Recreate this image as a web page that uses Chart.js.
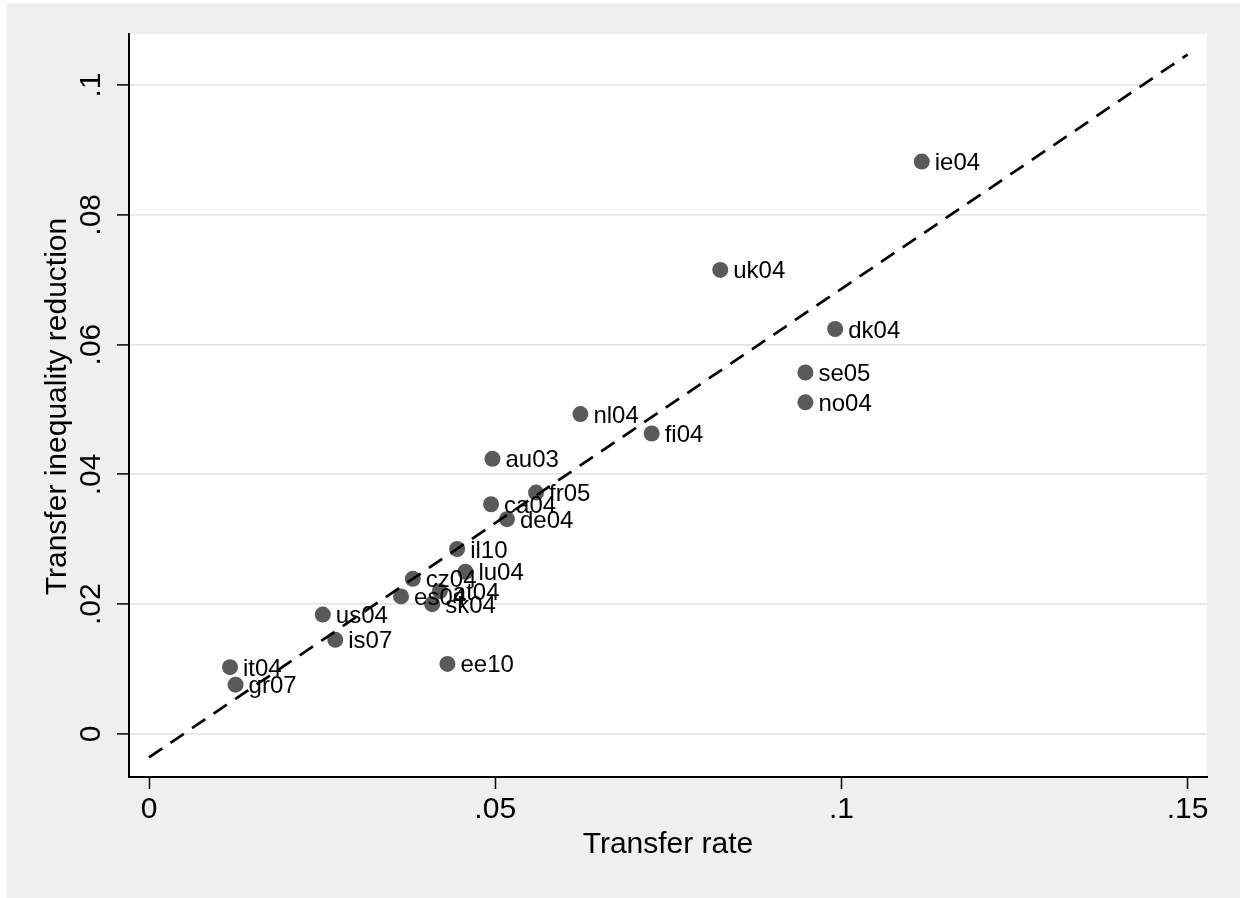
<!DOCTYPE html>
<html>
<head>
<meta charset="utf-8">
<script src="https://cdn.jsdelivr.net/npm/chart.js@4.4.1/dist/chart.umd.min.js"></script>
<style>
  html, body { margin: 0; padding: 0; background: #ffffff; }
  #wrap { position: absolute; left: 0; top: 0; width: 1241px; height: 898px; }
</style>
</head>
<body>
<div id="wrap"><canvas id="c" width="1241" height="898"></canvas></div>
<script>
const countries = ['ie04','uk04','dk04','se05','no04','nl04','fi04','au03','fr05','ca04','de04','il10','lu04','cz04','es04','at04','sk04','us04','is07','ee10','it04','gr07'];
const transferRate = [0.1116,0.0825,0.0991,0.0948,0.0948,0.0623,0.0726,0.0496,0.0559,0.0494,0.0517,0.0445,0.0457,0.0381,0.0364,0.0420,0.0409,0.0251,0.0269,0.0431,0.0117,0.0125];
const ineqReduction = [0.0882,0.0715,0.0624,0.0557,0.0511,0.0493,0.0463,0.0424,0.0372,0.0354,0.0331,0.0285,0.0250,0.0239,0.0212,0.0220,0.0200,0.0184,0.0145,0.0108,0.0103,0.0076];
const fitLineX = [0, 0.15];
const fitLineY = [-0.0036, 0.1047];
const xTickValues = [0, 0.05, 0.1, 0.15];
const xTickLabels = ['0', '.05', '.1', '.15'];
const yTickValues = [0, 0.02, 0.04, 0.06, 0.08, 0.1];
const yTickLabels = ['0', '.02', '.04', '.06', '.08', '.1'];
const xTitle = 'Transfer rate';
const yTitle = 'Transfer inequality reduction';

const FONT = '"Liberation Sans", Arial, sans-serif';

const bgPlugin = {
  id: 'bg',
  beforeDraw(chart) {
    const ctx = chart.ctx, a = chart.chartArea;
    ctx.save();
    ctx.fillStyle = '#ffffff';
    ctx.fillRect(0, 0, chart.width, chart.height);
    ctx.fillStyle = '#efefef';
    ctx.fillRect(7, 3, 1233, 895);
    ctx.fillStyle = '#ffffff';
    ctx.fillRect(a.left, a.top, a.right - a.left, a.bottom - a.top);
    ctx.restore();
  }
};

const textPlugin = {
  id: 'texts',
  afterDraw(chart) {
    const ctx = chart.ctx, a = chart.chartArea;
    const xs = chart.scales.x, ys = chart.scales.y;
    ctx.save();
    ctx.fillStyle = '#000000';
    ctx.font = '30px ' + FONT;
    ctx.textAlign = 'center';
    ctx.textBaseline = 'alphabetic';
    xTickValues.forEach((v, i) => {
      ctx.fillText(xTickLabels[i], xs.getPixelForValue(v), 818);
    });
    ctx.fillText(xTitle, (a.left + a.right) / 2, 853);
    yTickValues.forEach((v, i) => {
      ctx.save();
      ctx.translate(100, ys.getPixelForValue(v));
      ctx.rotate(-Math.PI / 2);
      ctx.textAlign = 'center';
      ctx.fillText(yTickLabels[i], 0, 0);
      ctx.restore();
    });
    ctx.save();
    ctx.translate(66, (a.top + a.bottom) / 2 + 1);
    ctx.rotate(-Math.PI / 2);
    ctx.textAlign = 'center';
    ctx.fillText(yTitle, 0, 0);
    ctx.restore();
    ctx.restore();
  },
  afterDatasetsDraw(chart) {
    const ctx = chart.ctx;
    const xs = chart.scales.x, ys = chart.scales.y;
    ctx.save();
    ctx.fillStyle = '#000000';
    ctx.font = '24px ' + FONT;
    ctx.textAlign = 'left';
    ctx.textBaseline = 'alphabetic';
    countries.forEach((c, i) => {
      const px = xs.getPixelForValue(transferRate[i]);
      const py = ys.getPixelForValue(ineqReduction[i]);
      ctx.fillText(c, px + 13, py + 8.5);
    });
    ctx.restore();
  }
};

new Chart(document.getElementById('c'), {
  data: {
    datasets: [
      {
        type: 'line',
        data: fitLineX.map((x, i) => ({ x: x, y: fitLineY[i] })),
        borderColor: '#000000',
        borderWidth: 2.7,
        borderDash: [16, 10],
        pointRadius: 0,
        fill: false,
        tension: 0
      },
      {
        type: 'scatter',
        data: transferRate.map((x, i) => ({ x: x, y: ineqReduction[i] })),
        backgroundColor: '#5a5a5a',
        borderWidth: 0,
        pointRadius: 8,
        pointHoverRadius: 8
      }
    ]
  },
  options: {
    responsive: false,
    animation: false,
    devicePixelRatio: 1,
    layout: { padding: { left: 0, top: 34, right: 34, bottom: 0 } },
    plugins: { legend: { display: false }, tooltip: { enabled: false } },
    scales: {
      x: {
        type: 'linear',
        min: -0.00289,
        max: 0.1528,
        afterBuildTicks: s => { s.ticks = xTickValues.map(v => ({ value: v })); },
        afterFit: s => { s.height = 121; },
        ticks: { display: false },
        grid: { drawOnChartArea: false, drawTicks: true, tickLength: 12, tickColor: '#000000', tickWidth: 1.5 },
        border: { display: true, color: '#000000', width: 2 },
        title: { display: false }
      },
      y: {
        type: 'linear',
        min: -0.00663,
        max: 0.10786,
        afterBuildTicks: s => { s.ticks = yTickValues.map(v => ({ value: v })); },
        afterFit: s => { s.width = 129; },
        ticks: { display: false },
        grid: { drawOnChartArea: true, color: '#e6e6e6', lineWidth: 1.8, drawTicks: true, tickLength: 12, tickColor: '#000000', tickWidth: 1.5 },
        border: { display: true, color: '#000000', width: 2 },
        title: { display: false }
      }
    }
  },
  plugins: [bgPlugin, textPlugin]
});
</script>
</body>
</html>
